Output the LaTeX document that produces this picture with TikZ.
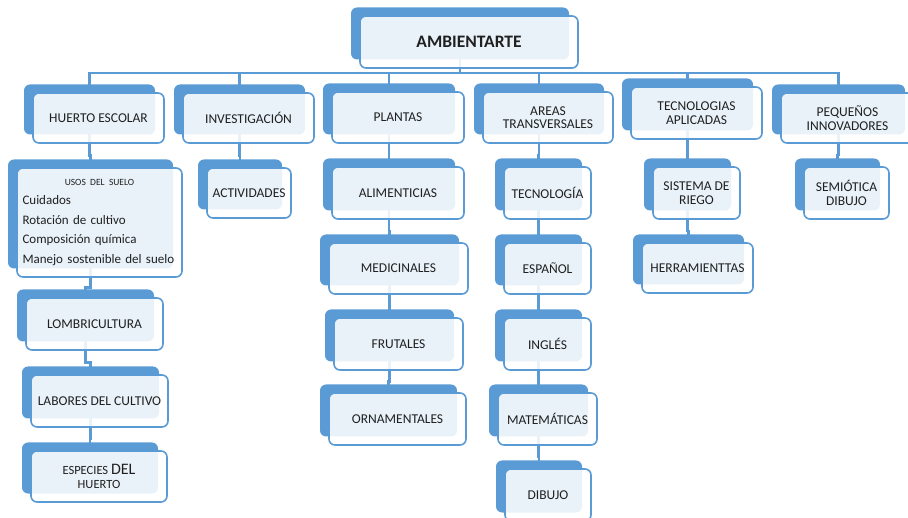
\documentclass[tikz,border=0pt]{standalone}
\usepackage{fontspec}
\setmainfont{Carlito}
\usetikzlibrary{backgrounds, calc}
\definecolor{tabblue}{RGB}{91,155,213}
\definecolor{txtgray}{RGB}{32,32,32}

\begin{document}
\begin{tikzpicture}[x=1pt, y=-1pt,
    tabbox/.style={draw=tabblue, line width=1.6pt, rounded corners=6pt,
                   fill=white, fill opacity=0.87, text opacity=1,
                   preaction={fill=tabblue, fill opacity=1,
                              transform canvas={shift={(-9pt,8.5pt)}}},
                   inner sep=0pt, align=center, text=txtgray,
                   font=\fontsize{13.5}{13.5}\selectfont},
    conn/.style={draw=tabblue, line width=2.4pt}
  ]
    \useasboundingbox (0,0) rectangle (908,518);

    % raiz
    \node[tabbox, minimum width=218pt, minimum height=52pt,
          font=\fontsize{17.5}{18}\selectfont\bfseries] (amb) at (469,42) {AMBIENTARTE};

    % primer nivel
    \node[tabbox, minimum width=131pt, minimum height=50pt] (huerto) at (98.5,118)  {HUERTO ESCOLAR};
    \node[tabbox, minimum width=131pt, minimum height=50pt] (invest) at (248.5,118) {INVESTIGACIÓN};
    \node[tabbox, minimum width=132pt, minimum height=51pt] (plantas) at (398,117.5) {PLANTAS};
    \node[tabbox, minimum width=130pt, minimum height=51pt] (areas) at (548,117.5)  {AREAS\\TRANSVERSALES};
    \node[tabbox, minimum width=131pt, minimum height=52pt] (tecno) at (696.5,113)  {TECNOLOGIAS\\APLICADAS};
    \node[tabbox, minimum width=133pt, minimum height=50pt] (peq) at (847.5,118)    {PEQUEÑOS\\INNOVADORES};

    % huerto escolar
    \node[tabbox, minimum width=165pt, minimum height=109pt, align=left, text width=154pt,
          font=\fontsize{13}{19.5}\selectfont] (usos) at (99.5,222.5)
          {\makebox[154pt]{\fontsize{9.5}{10}\selectfont USOS DEL\ SUELO}\\Cuidados\\Rotación de cultivo\\Composición química\\Manejo sostenible del suelo};
    \node[tabbox, minimum width=137pt, minimum height=52pt] (lombri) at (94.5,324)   {LOMBRICULTURA};
    \node[tabbox, minimum width=137pt, minimum height=52pt] (labores) at (99.5,401)  {LABORES DEL CULTIVO};
    \node[tabbox, minimum width=136pt, minimum height=51pt,
          font=\fontsize{12.5}{14}\selectfont] (especies) at (99,476.5)
          {ESPECIES {\fontsize{16}{14}\selectfont DEL}\\HUERTO};

    % investigacion
    \node[tabbox, minimum width=84pt, minimum height=50pt] (activ) at (249,193) {ACTIVIDADES};

    % plantas
    \node[tabbox, minimum width=132pt, minimum height=52pt] (alim) at (398,193)     {ALIMENTICIAS};
    \node[tabbox, minimum width=139pt, minimum height=51pt] (medic) at (398.5,268.5) {MEDICINALES};
    \node[tabbox, minimum width=129pt, minimum height=52pt] (frut) at (398.5,344)   {FRUTALES};
    \node[tabbox, minimum width=137pt, minimum height=52pt] (orna) at (397.5,419)   {ORNAMENTALES};

    % areas transversales
    \node[tabbox, minimum width=87pt, minimum height=52pt] (tecnol) at (547.5,193)  {TECNOLOGÍA};
    \node[tabbox, minimum width=87pt, minimum height=51pt] (espanol) at (547.5,268.5) {ESPAÑOL};
    \node[tabbox, minimum width=87pt, minimum height=52pt] (ingles) at (547.5,344)  {INGLÉS};
    \node[tabbox, minimum width=99pt, minimum height=52pt] (matem) at (547.5,419)   {MATEMÁTICAS};
    \node[tabbox, minimum width=86pt, minimum height=52pt] (dibujo) at (548,495)    {DIBUJO};

    % tecnologias aplicadas
    \node[tabbox, minimum width=87pt, minimum height=52pt] (sistema) at (696.5,193) {SISTEMA DE\\RIEGO};
    \node[tabbox, minimum width=111pt, minimum height=50pt] (herram) at (697.5,268) {HERRAMIENTTAS};

    % pequenos innovadores
    \node[tabbox, minimum width=85pt, minimum height=52pt] (semio) at (846.5,193) {SEMIÓTICA\\DIBUJO};

    \begin{scope}[on background layer]
      \coordinate (bus) at (469,73);
      \foreach \c in {huerto, invest, plantas, areas, tecno, peq}
        \draw[conn] ([xshift=-9pt]amb.center) |- (bus) -| ([xshift=-9pt]\c.center);
      \foreach \p/\c in {huerto/usos, usos/lombri, lombri/labores, labores/especies,
                         invest/activ,
                         plantas/alim, alim/medic, medic/frut, frut/orna,
                         areas/tecnol, tecnol/espanol, espanol/ingles, ingles/matem, matem/dibujo,
                         tecno/sistema, sistema/herram,
                         peq/semio}
        \draw[conn] ([xshift=-9pt]\p.center)
          |- ($([xshift=-9pt]\p.south)!.5!([xshift=-9pt]\c.north)$)
          -| ([xshift=-9pt]\c.center);
    \end{scope}
\end{tikzpicture}
\end{document}
